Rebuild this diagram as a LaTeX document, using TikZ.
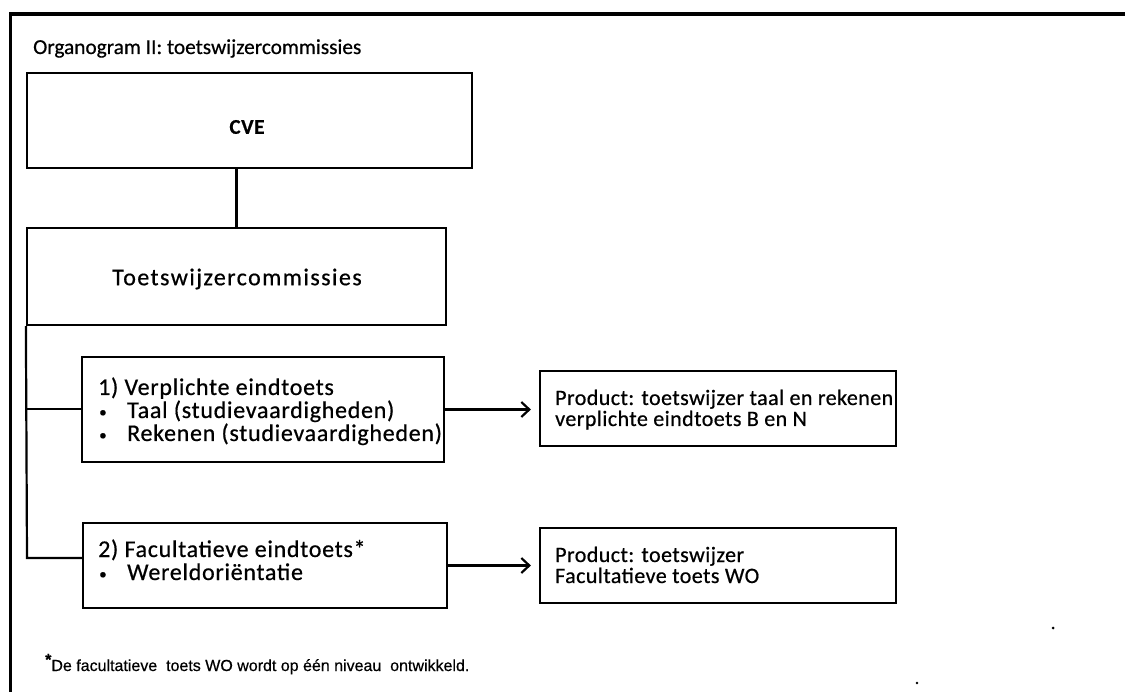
\documentclass[tikz,border=0pt]{standalone}
\usepackage{fontspec}
\setmainfont{Carlito}[FakeBold=0.6]
\newfontfamily\notefont{Liberation Sans}[FakeBold=0.5]
\usetikzlibrary{arrows.meta}
\newcommand{\smallbul}{{\fontsize{15}{15}\selectfont\textbullet}}
\begin{document}
\begin{tikzpicture}[x=1pt,y=-1pt,
  box/.style={draw,line width=2.2pt},
  conn/.style={line width=2.2pt},
  arr/.style={line width=2.2pt,-{Straight Barb[length=8pt,width=15pt,line width=2.2pt]},shorten >=8pt},
  txt/.style={inner sep=0pt,anchor=base west},
  bodyfont/.style={font=\fontsize{24}{26}\selectfont\addfontfeature{LetterSpace=3}},
  prodfont/.style={font=\fontsize{22}{24}\selectfont\addfontfeature{LetterSpace=2}},
  frame/.style={line width=3.5pt}
]
\useasboundingbox (0,0) rectangle (1125,692);
% frame (cropped: only top and left edges visible)
\coordinate (fb) at (10.5,692);
\coordinate (ftl) at (10.5,14);
\coordinate (ftr) at (1125,14);
\draw[frame] (fb) -- (ftl) -- (ftr);

% title
\node[txt,font=\fontsize{21.3}{24}\selectfont] (title) at (33,54) {Organogram II: toetswijzercommissies};

% boxes
\node[box,minimum width=445pt,minimum height=95pt,inner sep=0pt] (cve) at (249.5,120.5) {};
\node[font=\bfseries\fontsize{21}{23}\selectfont\addfontfeature{LetterSpace=3},inner sep=0pt] (cvet) at (247,127) {CVE};

\node[box,minimum width=419pt,minimum height=97pt,inner sep=0pt] (tw) at (236.5,276.5) {};
\node[font=\fontsize{24}{26}\selectfont\addfontfeature{LetterSpace=6},inner sep=0pt] (twt) at (237,279) {Toetswijzercommissies};

\node[box,minimum width=362pt,minimum height=105pt,inner sep=0pt] (b1) at (263,409.5) {};
\node[txt,bodyfont] (b1a) at (98,395) {1) Verplichte eindtoets};
\node[txt,bodyfont] (b1b) at (99,417) {\smallbul};
\node[txt,bodyfont] (b1c) at (127,418) {Taal (studievaardigheden)};
\node[txt,bodyfont] (b1d) at (99,440) {\smallbul};
\node[txt,bodyfont] (b1e) at (127,441) {Rekenen (studievaardigheden)};

\node[box,minimum width=364pt,minimum height=85pt,inner sep=0pt] (b2) at (265,565.5) {};
\node[txt,bodyfont] (b2a) at (98,557) {2) Facultatieve eindtoets*};
\node[txt,bodyfont] (b2b) at (99,579) {\smallbul};
\node[txt,bodyfont] (b2c) at (127,580) {Wereldoriëntatie};

\node[box,minimum width=356pt,minimum height=75pt,inner sep=0pt] (p1) at (718,408.5) {};
\node[txt,prodfont] (p1a) at (555,405) {Product: toetswijzer taal en rekenen};
\node[txt,prodfont] (p1b) at (555,426) {verplichte eindtoets B en N};

\node[box,minimum width=356pt,minimum height=75pt,inner sep=0pt] (p2) at (718,565.5) {};
\node[txt,prodfont] (p2a) at (555,562) {Product: toetswijzer};
\node[txt,prodfont] (p2b) at (555,583) {Facultatieve toets WO};

% connectors
\draw[conn] (tw.north |- cve.south) -- (tw.north);
\coordinate (br1) at (27,409);
\coordinate (br2) at (27,558);
\draw[conn] (tw.south west) -- (br2) -- (br2 -| b2.west);
\draw[conn] (br1) -- (br1 -| b1.west);
\draw[arr] (b1.east) -- (b1.east -| p1.west);
\draw[arr] (b2.east) -- (b2.east -| p2.west);

% footnote
\node[txt,font=\notefont\fontsize{16}{18}\selectfont] (fn) at (45,671) {\raisebox{6pt}{\bfseries *}De facultatieve\ \ toets WO wordt op één niveau\ \ ontwikkeld.};

% scan specks
\fill (1053,628) circle (1.5pt);
\fill (917,683) circle (1.3pt);
\end{tikzpicture}
\end{document}
